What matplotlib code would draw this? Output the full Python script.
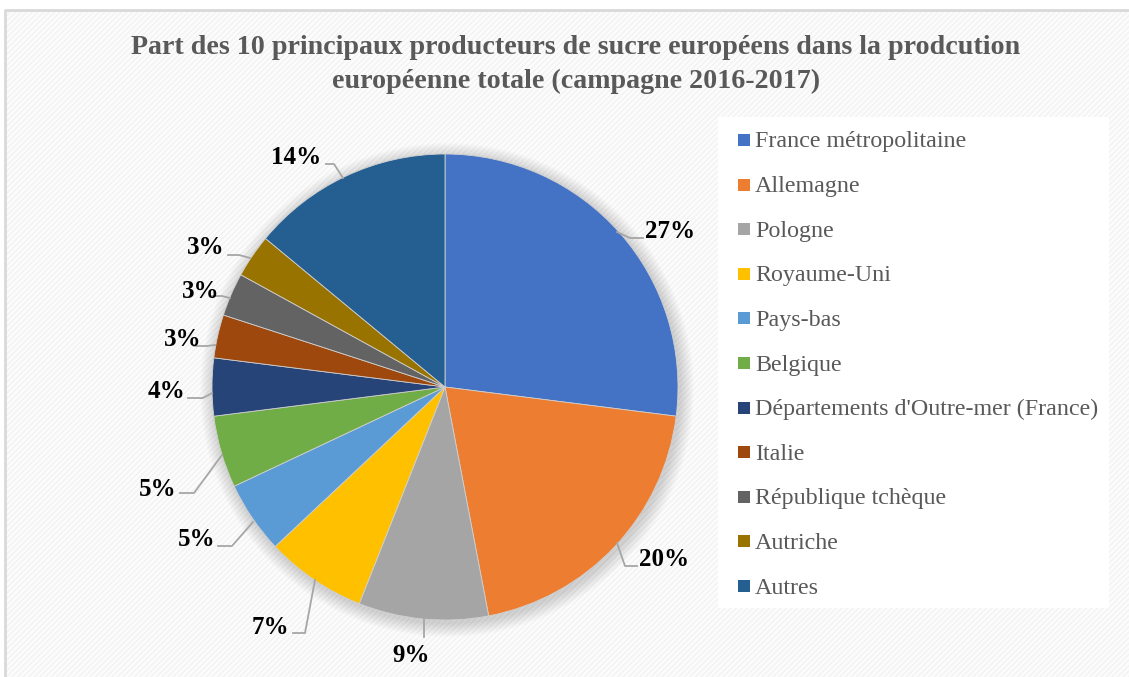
"""Part des 10 principaux producteurs de sucre européens (campagne 2016-2017)."""

import matplotlib

matplotlib.use("Agg")
import matplotlib.pyplot as plt
from matplotlib.patches import Circle, Rectangle

plt.rcParams["font.family"] = ["Liberation Serif", "DejaVu Serif"]

countries = [
    "France métropolitaine",
    "Allemagne",
    "Pologne",
    "Royaume-Uni",
    "Pays-bas",
    "Belgique",
    "Départements d'Outre-mer (France)",
    "Italie",
    "République tchèque",
    "Autriche",
    "Autres",
]
shares = [27, 20, 9, 7, 5, 5, 4, 3, 3, 3, 14]
colors = [
    "#4472C4", "#ED7D31", "#A5A5A5", "#FFC000", "#5B9BD5", "#70AD47",
    "#264478", "#9E480E", "#636363", "#997300", "#255E91",
]

# label text centre and leader line (pixel coordinates, y from top)
label_xy = [
    (670, 232), (664, 559), (411, 656), (270, 628), (197, 539), (158, 490),
    (166, 392), (183, 340), (201, 291), (206, 248), (296, 158),
]
leaders = [
    [(617, 232), (630, 238), (643, 238)],
    [(617, 543), (625, 566), (637, 566)],
    [(424, 618), (424, 637)],
    [(315, 580), (305, 633), (293, 633)],
    [(253, 522), (232, 546), (218, 546)],
    [(222, 455), (194, 493), (180, 493)],
    [(212, 393), (203, 398), (188, 398)],
    [(215, 345), (207, 346), (194, 346)],
    [(230, 298), (222, 296), (212, 296)],
    [(250, 258), (239, 255), (228, 255)],
    [(343, 178), (334, 164), (326, 164)],
]

W, H = 1129, 677
CX, CY, R = 445, 387, 233

fig = plt.figure(figsize=(W / 100, H / 100), dpi=100)
ax = fig.add_axes([0, 0, 1, 1])


def py(y):
    return H - y


# background with faint diagonal hatch and light border
ax.add_patch(Rectangle((0, 0), W, H, facecolor="white", edgecolor="none", zorder=0))
ax.add_patch(
    Rectangle((5, 0), W, py(10), facecolor="#fcfcfc", edgecolor="#f2f2f2",
              hatch="//////", linewidth=0, zorder=0.5)
)
ax.plot([5, 5, W], [0, py(10), py(10)], color="#d9d9d9", linewidth=2, zorder=0.6)

# legend box
ax.add_patch(
    Rectangle((718, py(608)), 1109 - 718, 608 - 117, facecolor="white",
              edgecolor="none", zorder=1)
)

# soft shadow around pie
for k in range(14, 0, -1):
    ax.add_patch(Circle((CX + 2, py(CY) - 3), R + k, facecolor="#000000",
                        edgecolor="none", alpha=0.012, zorder=1.5))

ax.pie(
    shares,
    colors=colors,
    startangle=90,
    counterclock=False,
    center=(CX, py(CY)),
    radius=R,
    wedgeprops={"linewidth": 0.6, "edgecolor": "#d0d0d0", "zorder": 2},
    frame=True,
)
ax.set_xlim(0, W)
ax.set_ylim(0, H)
ax.set_aspect("equal")
ax.axis("off")

for share, (tx, ty), pts in zip(shares, label_xy, leaders):
    ax.plot([p[0] for p in pts], [py(p[1]) for p in pts], color="#a6a6a6",
            linewidth=1.3, zorder=3)
    ax.text(tx, py(ty), f"{share}%", ha="center", va="center", fontsize=18,
            fontweight="bold", color="black", zorder=4)

ax.text(576, py(48), "Part des 10 principaux producteurs de sucre européens dans la prodcution",
        ha="center", va="center", fontsize=20.2, fontweight="bold", color="#595959", zorder=4)
ax.text(576, py(81), "européenne totale (campagne 2016-2017)",
        ha="center", va="center", fontsize=20.2, fontweight="bold", color="#595959", zorder=4)

# legend entries
for i, (name, col) in enumerate(zip(countries, colors)):
    y = 140 + i * 44.6
    ax.add_patch(Rectangle((738, py(y) - 6), 12, 12, facecolor=col, edgecolor="none", zorder=4))
    ax.text(755, py(y + 2), name, ha="left", va="center", fontsize=17.3, color="#595959", zorder=4)

fig.savefig("out.png", dpi=100)
